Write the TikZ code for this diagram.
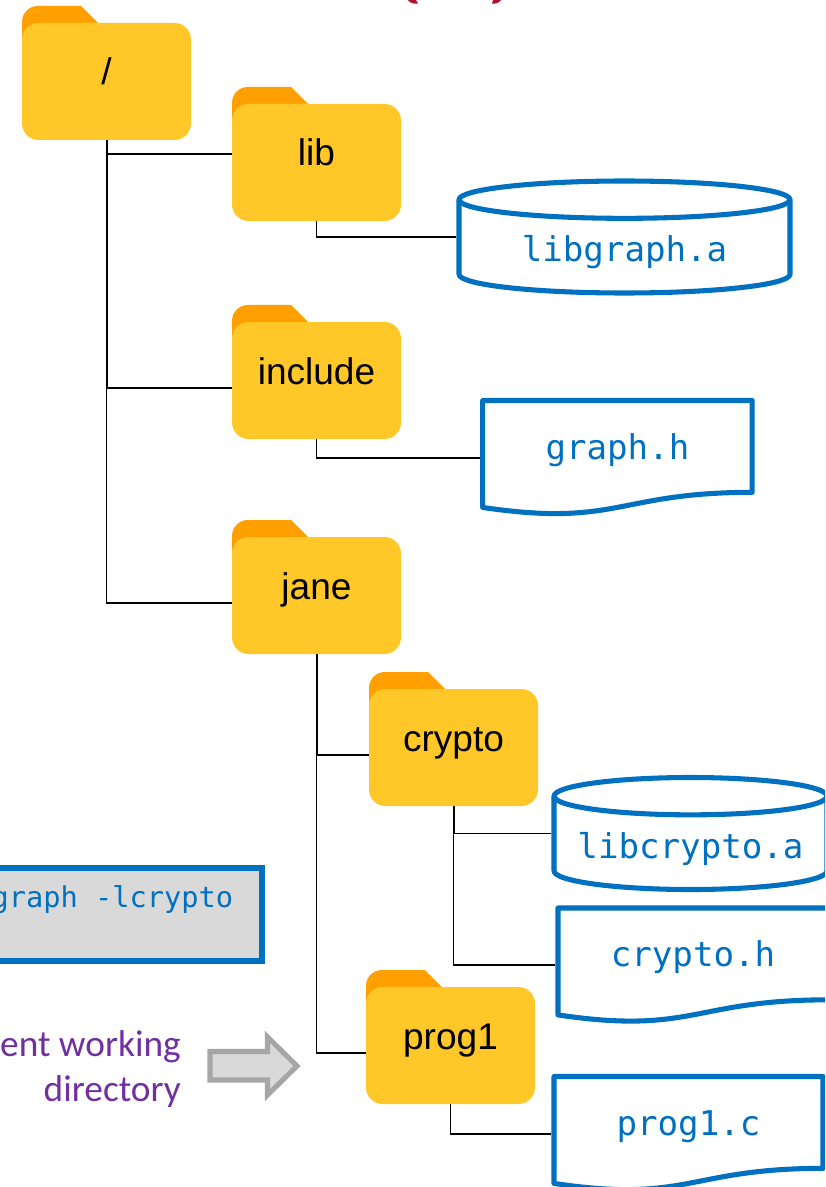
\documentclass[tikz,border=0pt]{standalone}
\usepackage{fontspec}
\setmainfont{Liberation Sans}
\newfontfamily\filefont{DejaVu Sans Mono}
\newfontfamily\notefont{Carlito}
\definecolor{folderfront}{HTML}{FFC828}
\definecolor{folderback}{HTML}{FFA000}
\definecolor{fileblue}{HTML}{0070C0}
\definecolor{boxgrey}{HTML}{D9D9D9}
\definecolor{arrowgrey}{HTML}{A6A6A6}
\definecolor{notepurple}{HTML}{7030A0}
\definecolor{titlered}{HTML}{B0102F}
\tikzset{
  x=0.75pt,y=-0.75pt,
  folderbox/.style={inner sep=0pt,minimum width=126.75pt,minimum height=100.5pt,text height=22.5pt,text depth=4.5pt,font=\fontsize{27.8}{32}\selectfont},
  fileline/.style={draw=fileblue,line width=3.8pt,line join=round,fill=white},
  filetext/.style={inner sep=0pt,text=fileblue,font=\filefont\fontsize{25.6}{30}\selectfont},
  disknode/.style={filetext,text height=45pt,text depth=7.5pt},
  docnode/.style={filetext,text height=18.75pt,text depth=16.5pt},
  conn/.style={draw=black,line width=1.4pt},
  fileconn/.style={conn,shorten >=1.8pt},
}
% name, left, top, label
\newcommand{\folder}[4]{%
  \fill[folderback] (#2,{#3+50}) -- (#2,{#3+16}) .. controls (#2,{#3+7}) and ({#2+7},#3) .. ({#2+16},#3) -- ({#2+59},#3) -- ({#2+76},{#3+17}) -- ({#2+76},{#3+50}) -- cycle;
  \fill[folderfront,rounded corners=12.4pt] (#2,{#3+17}) rectangle ({#2+169},{#3+134});
  \node[folderbox] (#1) at ({#2+84.5},{#3+67}) {#4};
}
% name, left, top, width, height, label
\newcommand{\diskfile}[6]{%
  \pgfmathsetmacro{\rx}{#4/2}\pgfmathsetmacro{\ry}{#5/6}\pgfmathsetmacro{\kx}{.5523*\rx}\pgfmathsetmacro{\ky}{.5523*\ry}%
  \pgfmathsetmacro{\cx}{#2+\rx}\pgfmathsetmacro{\rr}{#2+#4}\pgfmathsetmacro{\bb}{#3+#5}%
  \draw[fileline] (#2,{#3+\ry}) .. controls (#2,{#3+\ry-\ky}) and ({\cx-\kx},#3) .. (\cx,#3)
     .. controls ({\cx+\kx},#3) and (\rr,{#3+\ry-\ky}) .. (\rr,{#3+\ry})
     -- (\rr,{\bb-\ry}) .. controls (\rr,{\bb-\ry+\ky}) and ({\cx+\kx},\bb) .. (\cx,\bb)
     .. controls ({\cx-\kx},\bb) and (#2,{\bb-\ry+\ky}) .. (#2,{\bb-\ry}) -- cycle;
  \draw[fileline,fill=none] (#2,{#3+\ry}) .. controls (#2,{#3+\ry+\ky}) and ({\cx-\kx},{#3+2*\ry}) .. (\cx,{#3+2*\ry})
     .. controls ({\cx+\kx},{#3+2*\ry}) and (\rr,{#3+\ry+\ky}) .. (\rr,{#3+\ry});
  \node[disknode,minimum width=#4*0.75pt,minimum height=#5*0.75pt] (#1) at (\cx,{#3+#5/2}) {#6};
}
% name, left, top, width, height, label
\newcommand{\docfile}[6]{%
  \draw[fileline] (#2,#3) -- ({#2+#4},#3) -- ({#2+#4},{#3+.802*#5})
     .. controls ({#2+.5*#4},{#3+.802*#5}) and ({#2+.5*#4},{#3+1.1084*#5}) .. (#2,{#3+.9339*#5}) -- cycle;
  \node[docnode,minimum width=#4*0.75pt,minimum height=#5*0.75pt] (#1) at ({#2+#4/2},{#3+#5/2}) {#6};
}
\begin{document}
\begin{tikzpicture}
\useasboundingbox (0,0) rectangle (825,1187);
\clip (0,0) rectangle (825,1187);
% clipped title remnants
\fill[titlered] (408,0) .. controls (410,3) and (413,4) .. (418,3.5) -- (416,0) -- cycle;
\fill[titlered] (492,3.5) .. controls (496,4) and (499,3) .. (501,0) -- (493,0) -- cycle;
% folders
\folder{root}{22}{6}{/}
\folder{lib}{232}{87}{lib}
\folder{include}{232}{305}{include}
\folder{jane}{232}{520}{jane}
\folder{crypto}{369}{672}{crypto}
\folder{progone}{366}{970}{prog1}
% files
\diskfile{libgraph}{459}{181}{331}{112}{libgraph.a}
\docfile{graphh}{482.7}{400.5}{269.5}{114.5}{graph.h}
\diskfile{libcrypto}{554}{777.5}{273}{112}{libcrypto.a}
\docfile{cryptoh}{558}{908}{270}{114.5}{crypto.h}
\docfile{progonec}{554}{1076.5}{269}{114.5}{prog1.c}
% connectors
\draw[conn] (root.south) |- (jane.west |- 0,603);
\draw[conn] ([xshift=.5pt]root.south) |- (lib.west);
\draw[conn] ([xshift=.5pt]root.south) |- ([yshift=-12pt]include.west);
\draw[conn] (jane.south) |- ([yshift=-12pt]crypto.west);
\draw[conn] ([xshift=.3pt]jane.south) |- ([yshift=-12pt]crypto.west);
\draw[conn] (jane.south) |- ([yshift=-12pt]progone.west);
\draw[fileconn] (lib.south) |- (libgraph.west);
\draw[fileconn] (include.south) |- (graphh.west);
\draw[fileconn] ([xshift=.3pt]crypto.south) |- (libcrypto.west);
\draw[fileconn] (crypto.south) |- (cryptoh.west);
\draw[fileconn] (progone.south) |- (progonec.west);
% command box
\node[draw=fileblue,line width=3.8pt,fill=boxgrey,inner sep=0pt,outer sep=0pt,minimum width=204pt,minimum height=69.75pt,anchor=east] (cmdbox) at (262,914.5) {};
\node[inner sep=0pt,anchor=base east,text=fileblue,font=\filefont\fontsize{21.5}{26}\selectfont] (cmdtext) at (233.5,907) {graph -lcrypto};
% working directory note
\node[inner sep=0pt,anchor=north east,align=right,text=notepurple,font=\notefont\fontsize{28}{33.75}\selectfont] (cwdnote) at (181,1030) {ent working\\directory};
\draw[draw=arrowgrey,line width=3.8pt,fill=boxgrey,miter limit=10] (210,1051.5) -- (267.5,1051.5) -- (267.5,1037) -- (297,1066) -- (267.5,1095) -- (267.5,1080) -- (210,1080) -- cycle;
\end{tikzpicture}
\end{document}
